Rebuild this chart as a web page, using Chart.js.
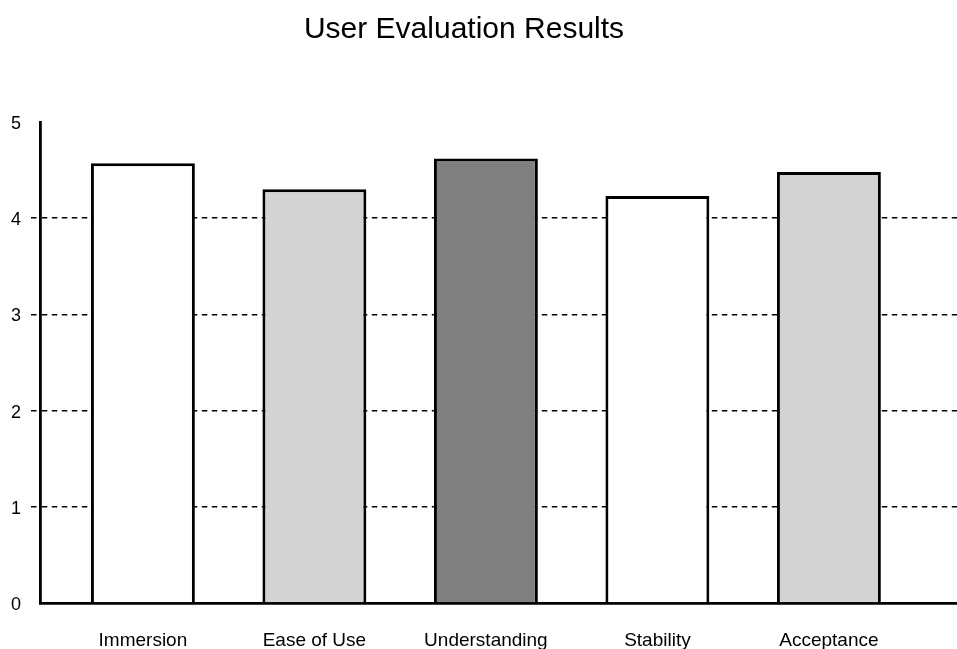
<!DOCTYPE html>
<html>
<head>
<meta charset="utf-8">
<script src="https://cdn.jsdelivr.net/npm/chart.js@4/dist/chart.umd.min.js"></script>
<style>
  html, body { margin: 0; padding: 0; background: #ffffff; }
  #wrap { width: 957px; height: 649px; position: relative; }
</style>
</head>
<body>
<div id="wrap"><canvas id="chart"></canvas></div>
<script>
// Survey results: mean score per evaluation dimension (0-5 scale)
const chartTitle = 'User Evaluation Results';
const categories = ['Immersion', 'Ease of Use', 'Understanding', 'Stability', 'Acceptance'];
const scores = [4.57, 4.30, 4.62, 4.23, 4.48];
const barColors = ['#ffffff', '#d3d3d3', '#808080', '#ffffff', '#d3d3d3'];
const yTickValues = [0, 1, 2, 3, 4, 5];

const FONT = "'Liberation Sans', Arial, Helvetica, sans-serif";

// Title drawn centred over the plotting region
const titlePlugin = {
  id: 'plotTitle',
  afterDraw(chart) {
    const ctx = chart.ctx;
    ctx.save();
    ctx.fillStyle = '#000';
    ctx.font = '30px ' + FONT;
    ctx.textAlign = 'center';
    ctx.textBaseline = 'middle';
    ctx.fillText(chartTitle, 464, 30);
    ctx.restore();
  }
};

new Chart(document.getElementById('chart'), {
  type: 'bar',
  data: {
    datasets: [{
      data: scores.map((v, i) => ({ x: i, y: v })),
      backgroundColor: barColors,
      borderColor: '#000000',
      borderWidth: 3,
      borderSkipped: 'start',
      barPercentage: 0.606,
      categoryPercentage: 1
    }]
  },
  options: {
    responsive: true,
    maintainAspectRatio: false,
    animation: false,
    devicePixelRatio: 1,
    layout: { padding: { top: 122, left: 0, right: 0, bottom: 0 } },
    plugins: {
      legend: { display: false },
      title: { display: false },
      tooltip: { enabled: false }
    },
    scales: {
      x: {
        type: 'linear',
        offset: false,
        min: -0.6,
        max: 4.747,
        z: 1,
        afterBuildTicks(scale) {
          scale.ticks = categories.map((_, i) => ({ value: i }));
        },
        afterFit(scale) { scale.height = 46; },
        grid: { display: false, drawTicks: false, offset: false },
        border: { display: true, color: '#000000', width: 2.8 },
        ticks: {
          autoSkip: false,
          maxRotation: 0,
          padding: 26,
          color: '#000000',
          font: { family: FONT, size: 19 },
          callback: (v) => categories[v]
        }
      },
      y: {
        min: 0,
        max: 5,
        afterBuildTicks(scale) {
          scale.ticks = yTickValues.map(v => ({ value: v }));
        },
        afterFit(scale) { scale.width = 40; },
        grid: {
          color: (c) => (c.tick && c.tick.value > 0 && c.tick.value < 5) ? '#000000' : 'rgba(0,0,0,0)',
          lineWidth: 1.5,
          tickBorderDash: [5.5, 4.5],
          tickLength: 9,
          drawTicks: true
        },
        border: { display: true, color: '#000000', width: 2.8, dash: [5.5, 4.5] },
        ticks: {
          padding: 10,
          labelOffset: 2,
          color: '#000000',
          font: { family: FONT, size: 18 }
        }
      }
    }
  },
  plugins: [titlePlugin]
});
</script>
</body>
</html>
